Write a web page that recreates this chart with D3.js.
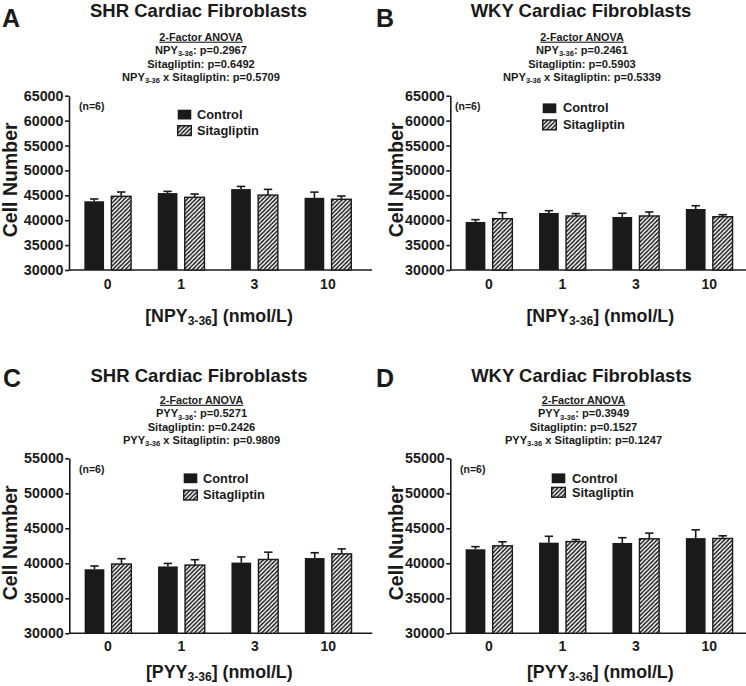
<!DOCTYPE html>
<html><head><meta charset="utf-8">
<script src="https://cdn.jsdelivr.net/npm/d3@7"></script>
<style>
body{margin:0;background:#fff}
svg{display:block}
text{font-family:"Liberation Sans",Arial,Helvetica,sans-serif;font-weight:bold;fill:#1a1a1a}
</style>
</head><body>
<svg id="c" width="746" height="686"></svg>
<script>
// ---------- data ----------
const doses = ["0", "1", "3", "10"];
const seriesNames = ["Control", "Sitagliptin"];
const yTicksTop = [30000, 35000, 40000, 45000, 50000, 55000, 60000, 65000];
const yTicksBottom = [30000, 35000, 40000, 45000, 50000, 55000];
const panelLetters = ["A", "B", "C", "D"];
const panelTitles = ["SHR Cardiac Fibroblasts", "WKY Cardiac Fibroblasts", "SHR Cardiac Fibroblasts", "WKY Cardiac Fibroblasts"];
const anovaHeader = "2-Factor ANOVA";
const anovaA = ["NPY_{3-36}: p=0.2967", "Sitagliptin: p=0.6492", "NPY_{3-36} x Sitagliptin: p=0.5709"];
const anovaB = ["NPY_{3-36}: p=0.2461", "Sitagliptin: p=0.5903", "NPY_{3-36} x Sitagliptin: p=0.5339"];
const anovaC = ["PYY_{3-36}: p=0.5271", "Sitagliptin: p=0.2426", "PYY_{3-36} x Sitagliptin: p=0.9809"];
const anovaD = ["PYY_{3-36}: p=0.3949", "Sitagliptin: p=0.1527", "PYY_{3-36} x Sitagliptin: p=0.1247"];
const xTitles = ["[NPY_{3-36}] (nmol/L)", "[NPY_{3-36}] (nmol/L)", "[PYY_{3-36}] (nmol/L)", "[PYY_{3-36}] (nmol/L)"];
const yTitle = "Cell Number";
const nLabel = "(n=6)";

const A_control    = [43800, 45450, 46250, 44500];
const A_controlErr = [460, 340, 530, 1140];
const A_sita       = [44800, 44600, 45050, 44200];
const A_sitaErr    = [860, 660, 1140, 660];

const B_control    = [39650, 41450, 40650, 42250];
const B_controlErr = [460, 460, 740, 660];
const B_sita       = [40300, 40850, 40850, 40700];
const B_sitaErr    = [1200, 470, 800, 400];

const C_control    = [39150, 39550, 40100, 40750];
const C_controlErr = [470, 430, 810, 760];
const C_sita       = [39900, 39750, 40550, 41350];
const C_sitaErr    = [760, 760, 1040, 710];

const D_control    = [42000, 42950, 42900, 43600];
const D_controlErr = [380, 910, 760, 1180];
const D_sita       = [42500, 43100, 43500, 43550];
const D_sitaErr    = [570, 290, 810, 380];

// ---------- layout ----------
const panels = [
  {letter: panelLetters[0], title: panelTitles[0], anova: anovaA, xTitle: xTitles[0], yTicks: yTicksTop,
   ctrl: A_control, ctrlErr: A_controlErr, sita: A_sita, sitaErr: A_sitaErr,
   ax: 69, yTop: 95.7, yBot: 270, letterPos: [2, 27], titlePos: [198.5, 16.9], anovaX: 201, anovaY: [40.7, 54, 67.5, 81],
   nPos: [79, 110], legX: 177, legY: [109, 125], legTx: 197, legTy: [118.5, 134.5], xLabY: 288.5, xTitleY: 321.5, yTitleX: 16.5},
  {letter: panelLetters[1], title: panelTitles[1], anova: anovaB, xTitle: xTitles[1], yTicks: yTicksTop,
   ctrl: B_control, ctrlErr: B_controlErr, sita: B_sita, sitaErr: B_sitaErr,
   ax: 450.3, yTop: 95.7, yBot: 270, letterPos: [376, 27], titlePos: [581, 16.9], anovaX: 582, anovaY: [40.7, 54, 67.5, 81],
   nPos: [455, 110], legX: 542, legY: [102.7, 119.3], legTx: 563, legTy: [112.3, 128.5], xLabY: 288.5, xTitleY: 321.5, yTitleX: 402.5},
  {letter: panelLetters[2], title: panelTitles[2], anova: anovaC, xTitle: xTitles[2], yTicks: yTicksBottom,
   ctrl: C_control, ctrlErr: C_controlErr, sita: C_sita, sitaErr: C_sitaErr,
   ax: 69.3, yTop: 458.3, yBot: 633.3, letterPos: [3, 386.7], titlePos: [199, 381.9], anovaX: 201.5, anovaY: [403.8, 417.2, 430.6, 444],
   nPos: [79, 473], legX: 183, legY: [472.7, 489.5], legTx: 203, legTy: [482.7, 499.3], xLabY: 651, xTitleY: 677.5, yTitleX: 16.5},
  {letter: panelLetters[3], title: panelTitles[3], anova: anovaD, xTitle: xTitles[3], yTicks: yTicksBottom,
   ctrl: D_control, ctrlErr: D_controlErr, sita: D_sita, sitaErr: D_sitaErr,
   ax: 450.3, yTop: 458.3, yBot: 633.3, letterPos: [376, 386.7], titlePos: [581.5, 381.9], anovaX: 583.5, anovaY: [403.8, 417.2, 430.6, 444],
   nPos: [460, 473], legX: 551, legY: [472.7, 486.7], legTx: 572, legTy: [482.7, 496.7], xLabY: 651, xTitleY: 677.5, yTitleX: 402.5}
];

const INK = "#1a1a1a";
const svg = d3.select("#c");

// hatch pattern
const defs = svg.append("defs");
const hp = 4.2;
const pat = defs.append("pattern").attr("id", "hatch")
  .attr("patternUnits", "userSpaceOnUse").attr("width", hp).attr("height", hp);
pat.append("rect").attr("width", hp).attr("height", hp).attr("fill", "#fff");
pat.append("path").attr("d", `M-1,1 L1,-1 M0,${hp} L${hp},0 M${hp - 1},${hp + 1} L${hp + 1},${hp - 1}`)
  .attr("stroke", INK).attr("stroke-width", 1.5);

// rich text with subscripts: "NPY_{3-36}: ..."
function richText(sel, str, size) {
  const parts = str.split(/(_\{[^}]*\})/).filter(s => s.length);
  let shifted = false;
  parts.forEach(p => {
    const m = p.match(/^_\{(.*)\}$/);
    if (m) {
      sel.append("tspan").attr("dy", size * 0.22).attr("font-size", size * 0.68).text(m[1]);
      shifted = true;
    } else {
      const t = sel.append("tspan").text(p);
      if (shifted) { t.attr("dy", -size * 0.22); shifted = false; }
    }
  });
}

panels.forEach(P => {
  const g = svg.append("g");
  const y = d3.scaleLinear().domain([30000, d3.max(P.yTicks)]).range([P.yBot, P.yTop]);
  const step = 73.4;
  const x = d3.scaleBand().domain(doses).range([P.ax + 2, P.ax + 2 + step * doses.length]).padding(0);
  const xs = d3.scaleBand().domain(seriesNames).range([-23.35, 23.35]).paddingInner(0.27).paddingOuter(0);

  // letter & title
  g.append("text").attr("x", P.letterPos[0]).attr("y", P.letterPos[1]).attr("font-size", 25).text(P.letter);
  g.append("text").attr("x", P.titlePos[0]).attr("y", P.titlePos[1]).attr("text-anchor", "middle")
    .attr("font-size", 18.5).text(P.title);

  // ANOVA text
  g.append("text").attr("x", P.anovaX).attr("y", P.anovaY[0]).attr("text-anchor", "middle")
    .attr("font-size", 10.8).attr("text-decoration", "underline").text(anovaHeader);
  P.anova.forEach((s, i) => {
    const t = g.append("text").attr("x", P.anovaX).attr("y", P.anovaY[i + 1]).attr("text-anchor", "middle")
      .attr("font-size", 11.1);
    richText(t, s, 11.1);
  });

  // y axis
  const yAxis = d3.axisLeft(y).tickValues(P.yTicks).tickSize(4).tickSizeOuter(0).tickPadding(1.5)
    .tickFormat(d3.format("d"));
  const ya = g.append("g").attr("transform", `translate(${P.ax},0)`).call(yAxis);
  ya.select(".domain").attr("stroke", INK).attr("stroke-width", 1.6);
  ya.selectAll(".tick line").attr("stroke", INK).attr("stroke-width", 1.6);
  ya.selectAll(".tick text").attr("font-size", 14.3).attr("font-family", null).attr("fill", INK);

  // x axis
  const xAxis = d3.axisBottom(x).tickSize(0).tickSizeOuter(0).tickPadding(0);
  const xa = g.append("g").attr("transform", `translate(0,${P.yBot})`).call(xAxis);
  xa.select(".domain").remove();
  xa.selectAll(".tick text").attr("font-size", 14).attr("font-family", null).attr("fill", INK)
    .attr("dy", null).attr("y", P.xLabY - P.yBot);
  g.append("line").attr("x1", P.ax).attr("x2", P.ax + 303).attr("y1", P.yBot).attr("y2", P.yBot)
    .attr("stroke", INK).attr("stroke-width", 1.6);

  // bars
  const rows = [];
  doses.forEach((d, i) => {
    rows.push({dose: d, s: seriesNames[0], v: P.ctrl[i], e: P.ctrlErr[i]});
    rows.push({dose: d, s: seriesNames[1], v: P.sita[i], e: P.sitaErr[i]});
  });
  const cx = r => x(r.dose) + x.bandwidth() / 2 + xs(r.s);
  const eb = g.append("g");
  rows.forEach(r => {
    const x0 = cx(r) + xs.bandwidth() / 2;
    eb.append("line").attr("x1", x0).attr("x2", x0).attr("y1", y(r.v)).attr("y2", y(r.v + r.e))
      .attr("stroke", INK).attr("stroke-width", 1.6);
    eb.append("line").attr("x1", x0 - 4.2).attr("x2", x0 + 4.2).attr("y1", y(r.v + r.e)).attr("y2", y(r.v + r.e))
      .attr("stroke", INK).attr("stroke-width", 1.6);
  });
  g.append("g").selectAll("rect").data(rows).join("rect")
    .attr("x", r => cx(r)).attr("width", xs.bandwidth())
    .attr("y", r => y(r.v)).attr("height", r => y(30000) - y(r.v))
    .attr("fill", r => r.s === seriesNames[0] ? INK : "url(#hatch)")
    .attr("stroke", INK).attr("stroke-width", r => r.s === seriesNames[0] ? 0 : 1.4);

  // (n=6)
  g.append("text").attr("x", P.nPos[0]).attr("y", P.nPos[1]).attr("font-size", 10.5).text(nLabel);

  // legend
  seriesNames.forEach((s, i) => {
    g.append("rect").attr("x", P.legX + 0.7).attr("y", P.legY[i] + 0.7).attr("width", 13.6).attr("height", 9.8)
      .attr("fill", i === 0 ? INK : "url(#hatch)").attr("stroke", INK).attr("stroke-width", i === 0 ? 0 : 1.4);
    g.append("text").attr("x", P.legTx).attr("y", P.legTy[i]).attr("font-size", 12.8).text(s);
  });

  // axis titles
  const xt = g.append("text").attr("x", P.ax + 150).attr("y", P.xTitleY).attr("text-anchor", "middle")
    .attr("font-size", 17.8);
  richText(xt, P.xTitle, 17.8);
  const yc = (P.yTop + P.yBot) / 2 - 3;
  g.append("text").attr("transform", `translate(${P.yTitleX},${yc}) rotate(-90)`).attr("text-anchor", "middle")
    .attr("font-size", 19.5).text(yTitle);
});
</script>
</body></html>
